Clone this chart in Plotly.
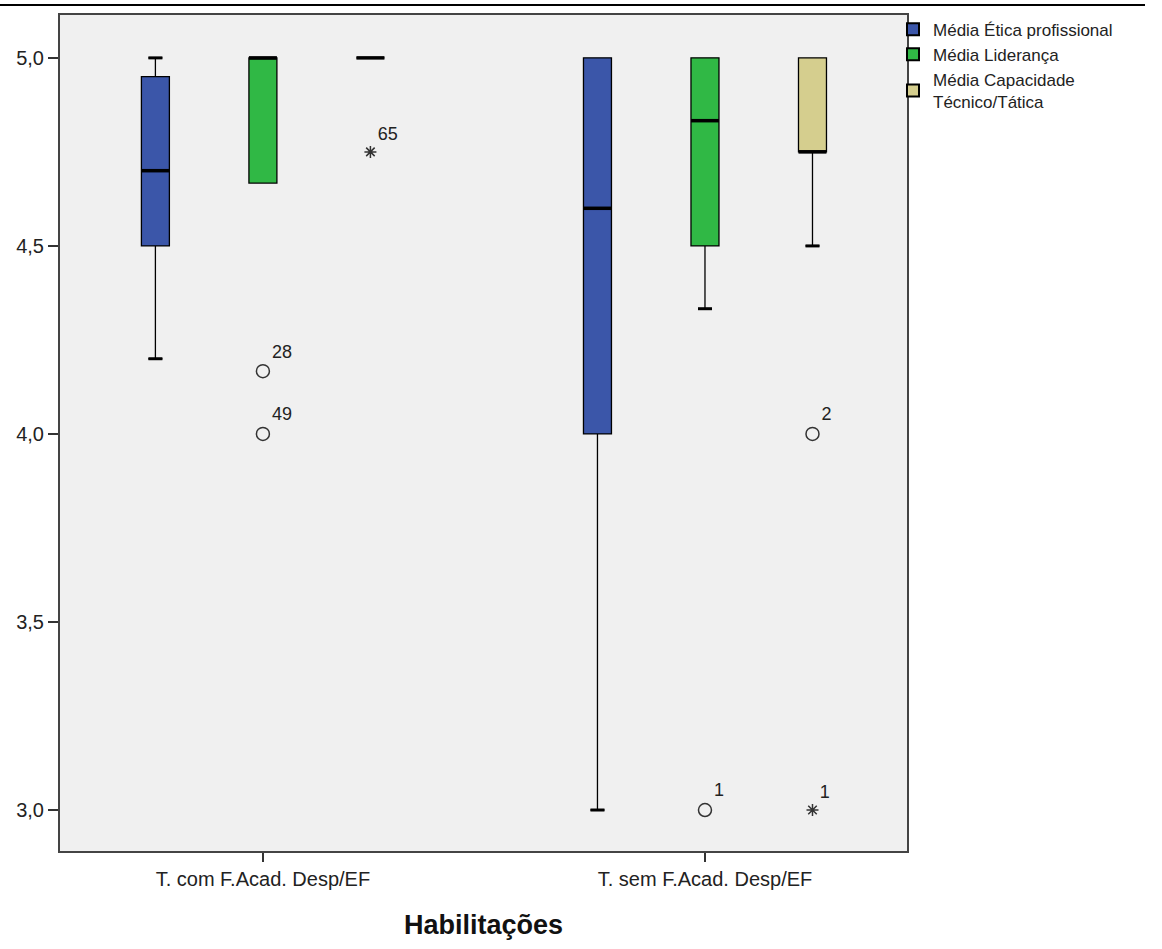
import plotly.graph_objects as go

categories = ["T. com F.Acad. Desp/EF", "T. sem F.Acad. Desp/EF"]
series_names = ["Média Ética profissional", "Média Liderança", "Média Capacidade<br>Técnico/Tática"]
series_colors = ["#3B56A9", "#30B845", "#D5CE8E"]

etica_lower = [4.2, 3.0]
etica_q1 = [4.5, 4.0]
etica_median = [4.7, 4.6]
etica_q3 = [4.95, 5.0]
etica_upper = [5.0, 5.0]

lider_lower = [4.667, 4.333]
lider_q1 = [4.667, 4.5]
lider_median = [5.0, 4.833]
lider_q3 = [5.0, 5.0]
lider_upper = [5.0, 5.0]

capac_lower = [5.0, 4.5]
capac_q1 = [5.0, 4.75]
capac_median = [5.0, 4.75]
capac_q3 = [5.0, 5.0]
capac_upper = [5.0, 5.0]

outlier_series = [1, 1, 2, 1, 2, 2]
outlier_cat = [0, 0, 0, 1, 1, 1]
outlier_value = [4.167, 4.0, 4.75, 3.0, 4.0, 3.0]
outlier_label = ["28", "49", "65", "1", "2", "1"]
outlier_kind = ["circle", "circle", "extreme", "circle", "circle", "extreme"]

stats = [
    (etica_lower, etica_q1, etica_median, etica_q3, etica_upper),
    (lider_lower, lider_q1, lider_median, lider_q3, lider_upper),
    (capac_lower, capac_q1, capac_median, capac_q3, capac_upper),
]

GROUP_OFFSET = 0.2432
BOX_WIDTH = 0.0633


def pos(series_idx, cat_idx):
    return cat_idx + (series_idx - 1) * GROUP_OFFSET


fig = go.Figure()

for s, (lo, q1, med, q3, up) in enumerate(stats):
    xs = [pos(s, c) for c in range(len(categories))]
    fig.add_trace(go.Box(
        x=xs, q1=q1, median=med, q3=q3, lowerfence=lo, upperfence=up,
        fillcolor=series_colors[s], line=dict(color="black", width=1.3),
        width=BOX_WIDTH, whiskerwidth=0.5, boxpoints=False,
        name=series_names[s], showlegend=False, hoverinfo="skip",
    ))
    # thick median lines
    fig.add_trace(go.Scatter(
        x=xs, y=med, mode="markers", showlegend=False, hoverinfo="skip",
        marker=dict(symbol="line-ew", size=20, line=dict(color="black", width=3.5)),
    ))
    # thick whisker caps where whisker extends beyond box
    cx, cy = [], []
    for c in range(len(categories)):
        if lo[c] < q1[c]:
            cx.append(xs[c]); cy.append(lo[c])
        if up[c] > q3[c]:
            cx.append(xs[c]); cy.append(up[c])
    if cx:
        fig.add_trace(go.Scatter(
            x=cx, y=cy, mode="markers", showlegend=False, hoverinfo="skip",
            marker=dict(symbol="line-ew", size=10, line=dict(color="black", width=3)),
        ))

# outliers
for kind, sym, size in [("circle", "circle-open", 13), ("extreme", "asterisk-open", 10)]:
    ox, oy, ot = [], [], []
    for s, c, v, lab, k in zip(outlier_series, outlier_cat, outlier_value, outlier_label, outlier_kind):
        if k == kind:
            ox.append(pos(s, c)); oy.append(v); ot.append(lab)
    fig.add_trace(go.Scatter(
        x=ox, y=oy, mode="markers+text", text=ot, textposition="top right",
        textfont=dict(size=18, color="#222"), showlegend=False, hoverinfo="skip",
        marker=dict(symbol=sym, size=size, color="#333",
                    line=dict(color="#333", width=1.5)),
    ))

# legend entries
for s in range(3):
    fig.add_trace(go.Scatter(
        x=[None], y=[None], mode="markers", name=series_names[s],
        marker=dict(symbol="square", size=16, color=series_colors[s],
                    line=dict(color="black", width=1)),
    ))

fig.update_layout(
    width=1162, height=949,
    margin=dict(l=60, r=255, t=13, b=98),
    paper_bgcolor="white", plot_bgcolor="#F0F0F0",
    separators=",.",
    font=dict(family="Liberation Sans, Arial, sans-serif", size=20, color="#222"),
    legend=dict(x=0.9835, y=1.004, xanchor="left", yanchor="top",
                bgcolor="rgba(0,0,0,0)", font=dict(size=17),
                tracegroupgap=0, itemsizing="constant"),
    shapes=[dict(type="line", xref="paper", yref="paper",
                 x0=-0.071, x1=1.281, y0=1.0119, y1=1.0119,
                 line=dict(color="black", width=2))],
)

fig.update_xaxes(
    range=[-0.459, 1.457], tickmode="array",
    tickvals=list(range(len(categories))), ticktext=categories,
    ticks="outside", ticklen=9, tickwidth=2, tickcolor="#333",
    showline=True, mirror=True, linecolor="#444", linewidth=2,
    showgrid=False, zeroline=False,
    tickfont=dict(size=20),
    title=dict(text="<b>Habilitações</b>", font=dict(size=27, color="#111"), standoff=26),
)
fig.update_yaxes(
    range=[2.891, 5.114], dtick=0.5, tick0=3.0, tickformat=".1f",
    ticks="outside", ticklen=10, tickwidth=2, tickcolor="#333",
    showline=True, mirror=True, linecolor="#444", linewidth=2,
    showgrid=False, zeroline=False,
    tickfont=dict(size=20),
)

fig.write_html("out.html", config={"displayModeBar": False},
               post_script="document.body.style.margin='0';document.body.style.padding='0';")
